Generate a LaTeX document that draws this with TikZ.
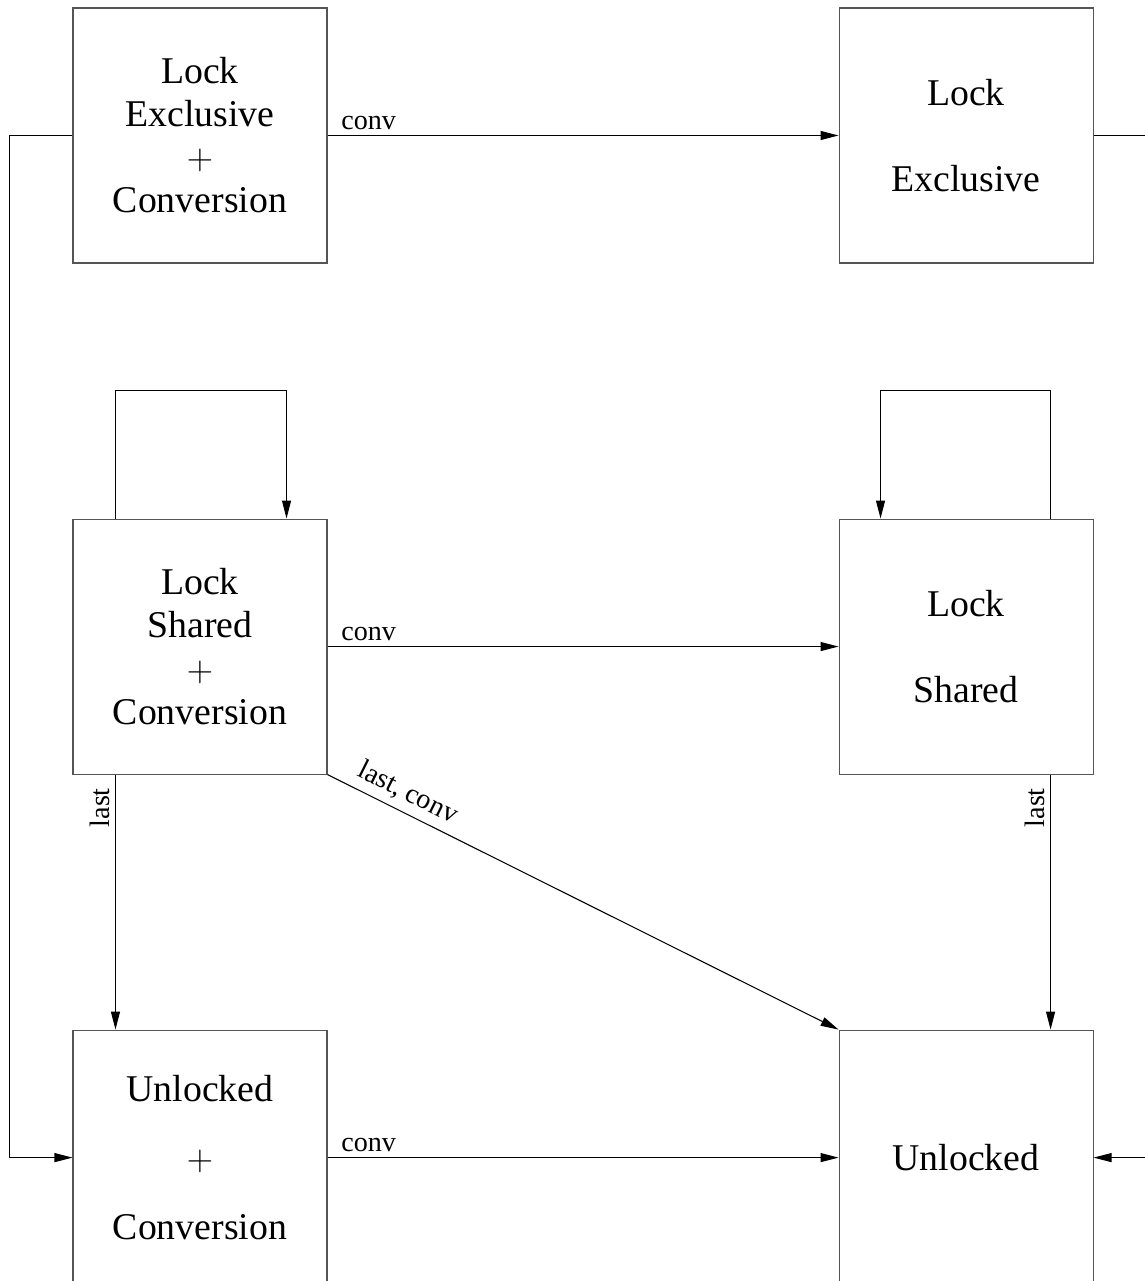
\documentclass[tikz,border=0pt]{standalone}
\usepackage{fontspec}
\setmainfont{Liberation Serif}
\usetikzlibrary{positioning,arrows.meta}
\usepackage{xcolor}
\definecolor{boxedge}{RGB}{85,85,85}

\begin{document}
\begin{tikzpicture}[
    node distance=5.1cm and 10.22cm,
    state/.style={draw=boxedge,line width=0.6pt,minimum width=5.08cm,minimum height=5.1cm,
      align=center,inner sep=0pt,font=\fontsize{21.5}{24.5}\selectfont},
    trans/.style={line width=0.6pt,-{Triangle[length=0.36cm,width=0.18cm]}},
    lbl/.style={font=\fontsize{16}{18}\selectfont,inner sep=3pt}
  ]
    \useasboundingbox (0,0) rectangle (22.9,25.62);
    \node[state] (lockexconv) at (4.0,22.91) {Lock\\Exclusive\\$+$\\Conversion};
    \node[state,right=of lockexconv] (lockex) {Lock\\[24.5pt]Exclusive};
    \node[state,below=of lockexconv] (lockshconv) {Lock\\Shared\\$+$\\Conversion};
    \node[state,right=of lockshconv] (locksh) {Lock\\[24.5pt]Shared};
    \node[state,below=of lockshconv] (unlockconv) {Unlocked\\[14.5pt]$+$\\[14.5pt]Conversion};
    \node[state,right=of unlockconv] (unlocked) {Unlocked};

    \draw[trans] (lockexconv) -- node[lbl,above right,pos=0,xshift=0.16cm] {conv} (lockex);
    \draw[trans] (lockex.east) -- ++(1.3,0) |- (unlocked.east);
    \draw[trans] (lockexconv.west) -- ++(-1.26,0) |- (unlockconv.west);
    \draw[trans] ([xshift=0.86cm]lockshconv.north west) -- ++(0,2.56) -| ([xshift=-0.82cm]lockshconv.north east);
    \draw[trans] ([xshift=-0.86cm]locksh.north east) -- ++(0,2.56) -| ([xshift=0.84cm]locksh.north west);
    \draw[trans] (lockshconv) -- node[lbl,above right,pos=0,xshift=0.16cm] {conv} (locksh);
    \draw[trans] (lockshconv.south east) -- node[lbl,sloped,above,pos=0.14,inner sep=4pt] {last, conv} (unlocked.north west);
    \draw[trans] ([xshift=0.86cm]lockshconv.south west) -- node[lbl,rotate=90,anchor=south,pos=0.13] {last} ([xshift=0.86cm]unlockconv.north west);
    \draw[trans] ([xshift=-0.86cm]locksh.south east) -- node[lbl,rotate=90,anchor=south,pos=0.13] {last} ([xshift=-0.86cm]unlocked.north east);
    \draw[trans] (unlockconv) -- node[lbl,above right,pos=0,xshift=0.16cm] {conv} (unlocked);
\end{tikzpicture}
\end{document}
